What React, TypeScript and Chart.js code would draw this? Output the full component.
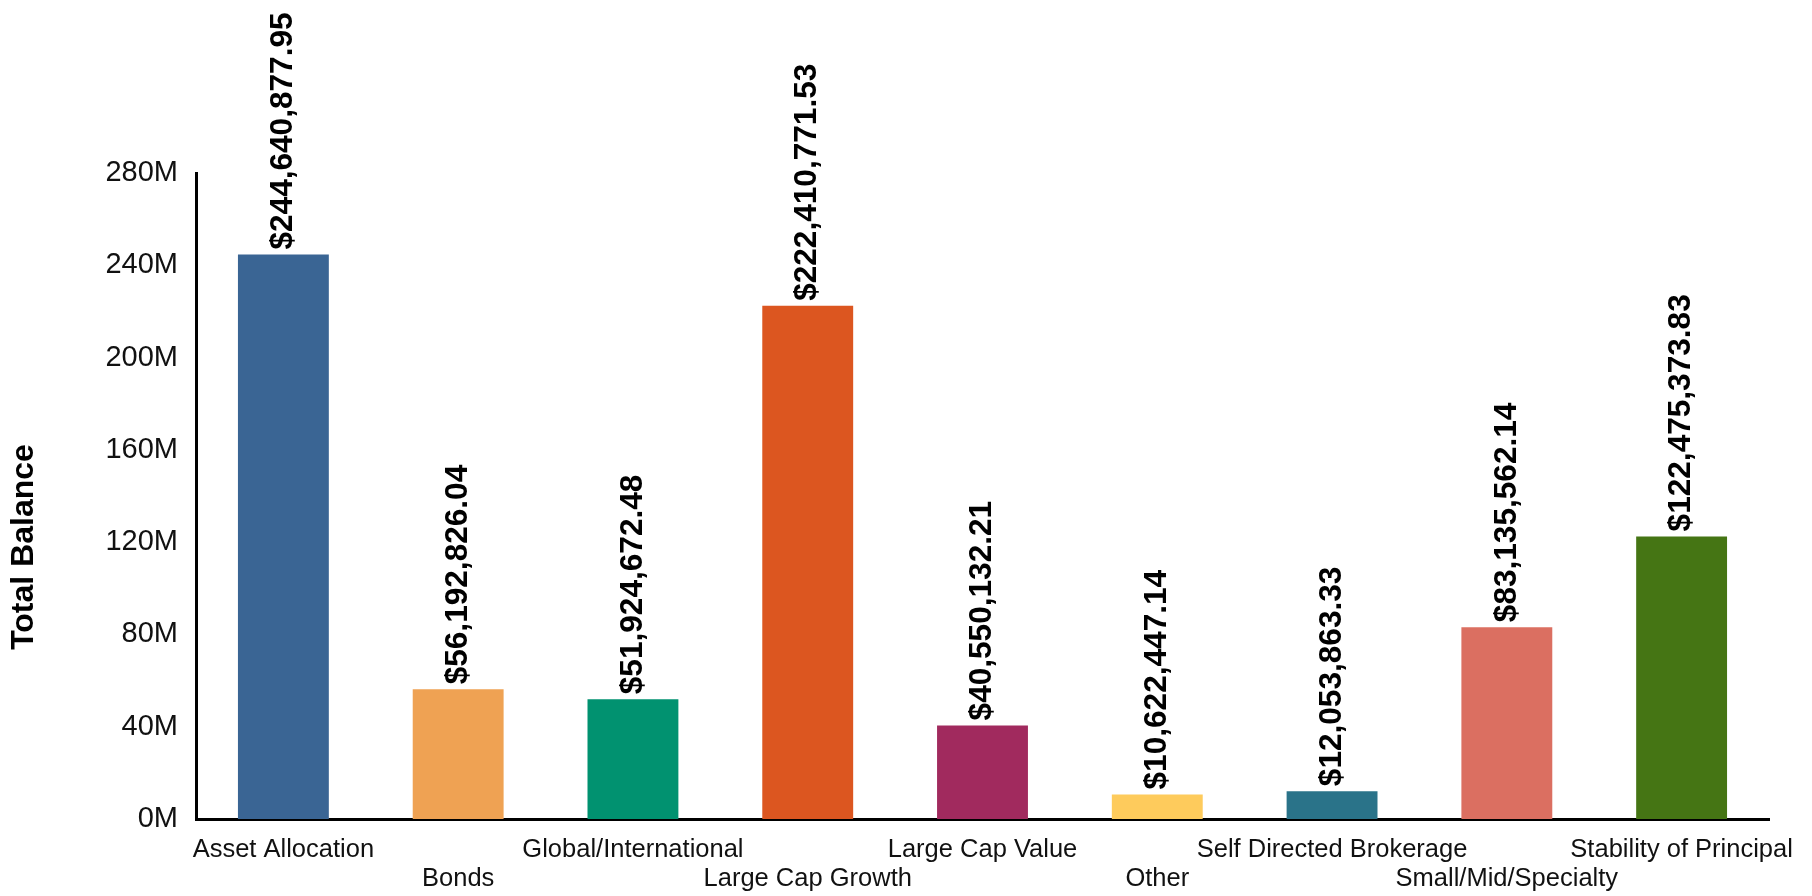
import React, { useEffect, useRef } from "react";
import { Chart, registerables } from "chart.js";

Chart.register(...registerables);

const categories = [
  "Asset Allocation",
  "Bonds",
  "Global/International",
  "Large Cap Growth",
  "Large Cap Value",
  "Other",
  "Self Directed Brokerage",
  "Small/Mid/Specialty",
  "Stability of Principal",
];

const balances = [
  244640877.95, 56192826.04, 51924672.48, 222410771.53, 40550132.21,
  10622447.14, 12053863.33, 83135562.14, 122475373.83,
];

const barColors = [
  "#3A6594",
  "#EFA253",
  "#019270",
  "#DC5620",
  "#A12A5E",
  "#FECB5C",
  "#2A7389",
  "#DB6F61",
  "#457514",
];

const yMax = 280000000;
const yStep = 40000000;
const yTitle = "Total Balance";

const FONT = "'Liberation Sans', Arial, sans-serif";

const fmtMoney = (v: number) =>
  "$" +
  v.toLocaleString("en-US", { minimumFractionDigits: 2, maximumFractionDigits: 2 });

const valueLabelPlugin = {
  id: "valueLabels",
  afterDatasetsDraw(chart: any) {
    const ctx = chart.ctx;
    const meta = chart.getDatasetMeta(0);
    ctx.save();
    ctx.font = `bold 31.6px ${FONT}`;
    ctx.fillStyle = "#000";
    ctx.textAlign = "left";
    ctx.textBaseline = "middle";
    meta.data.forEach((el: any, i: number) => {
      ctx.save();
      ctx.translate(el.x, el.y - 5);
      ctx.rotate(-Math.PI / 2);
      ctx.fillText(fmtMoney(balances[i]), 0, 0);
      ctx.restore();
    });
    ctx.restore();
  },
};

const yTitlePlugin = {
  id: "yTitle",
  afterDraw(chart: any) {
    const ctx = chart.ctx;
    ctx.save();
    ctx.font = `bold 32px ${FONT}`;
    ctx.fillStyle = "#000";
    ctx.textAlign = "center";
    ctx.textBaseline = "middle";
    ctx.translate(24, 547);
    ctx.rotate(-Math.PI / 2);
    ctx.fillText(yTitle, 0, 0);
    ctx.restore();
  },
};

export default function App() {
  const ref = useRef<HTMLCanvasElement | null>(null);

  useEffect(() => {
    if (!ref.current) return;
    const chart = new Chart(ref.current, {
      type: "bar",
      data: {
        labels: categories.map((c, i) => (i % 2 === 1 ? ["", c] : c)),
        datasets: [
          {
            data: balances,
            backgroundColor: barColors,
            borderWidth: 0,
            barPercentage: 0.52,
            categoryPercentage: 1,
          },
        ],
      },
      options: {
        animation: false,
        responsive: false,
        maintainAspectRatio: false,
        layout: { padding: { top: 173, right: 43, left: 0, bottom: 0 } },
        plugins: {
          legend: { display: false },
          tooltip: { enabled: false },
          title: { display: false },
        },
        scales: {
          x: {
            grid: { display: false, drawTicks: false },
            border: { display: true, color: "#000", width: 3 },
            ticks: {
              autoSkip: false,
              maxRotation: 0,
              minRotation: 0,
              padding: 16,
              color: "#111",
              font: { family: FONT, size: 25.5, lineHeight: 1.16 },
            },
            afterFit(scale: any) {
              scale.height = 77;
            },
          },
          y: {
            min: 0,
            max: yMax,
            grid: { display: false, drawTicks: false },
            border: { display: true, color: "#000", width: 3 },
            ticks: {
              stepSize: yStep,
              padding: 18,
              color: "#111",
              font: { family: FONT, size: 29 },
              callback: (v: any) => `${Math.round(Number(v) / 1e6)}M`,
            },
            afterFit(scale: any) {
              scale.width = 196;
            },
          },
        },
      },
      plugins: [valueLabelPlugin, yTitlePlugin],
    });
    return () => chart.destroy();
  }, []);

  return (
    <div style={{ position: "absolute", left: 0, top: 0, width: 1812, height: 896, background: "#fff" }}>
      <canvas ref={ref} width={1812} height={896} style={{ display: "block" }} />
    </div>
  );
}
